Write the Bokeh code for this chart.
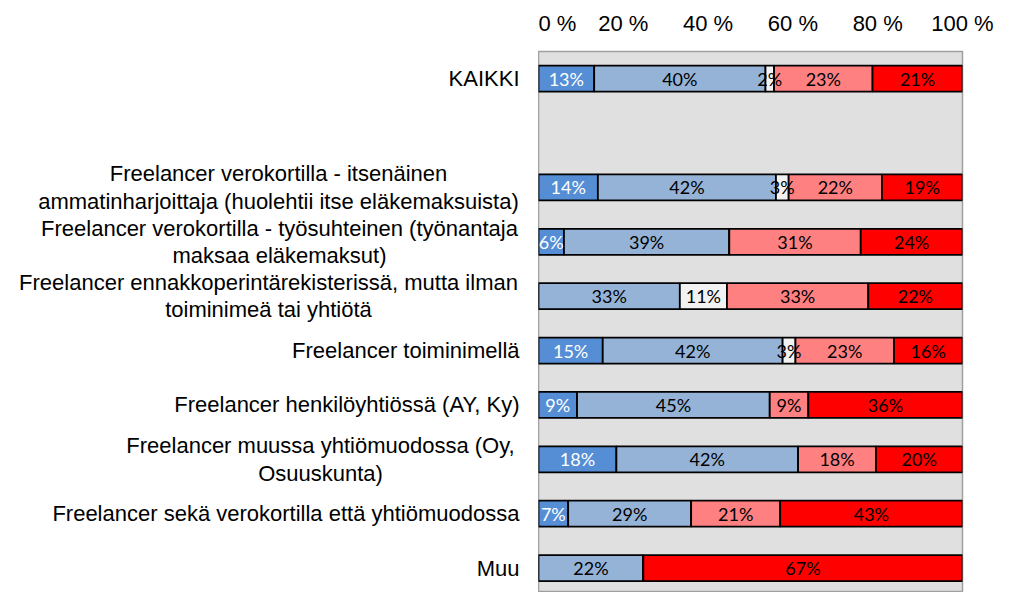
from bokeh.plotting import figure
from bokeh.layouts import row
from bokeh.models import ColumnDataSource, Range1d, FixedTicker
from bokeh.core.properties import value
from bokeh.embed import file_html
from bokeh.resources import INLINE

# ---------------- data ----------------
categories = [
    "KAIKKI",
    "",
    "Freelancer verokortilla - itsenäinen\nammatinharjoittaja (huolehtii itse eläkemaksuista)",
    "Freelancer verokortilla - työsuhteinen (työnantaja\nmaksaa eläkemaksut)",
    "Freelancer ennakkoperintärekisterissä, mutta ilman\ntoiminimeä tai yhtiötä",
    "Freelancer toiminimellä",
    "Freelancer henkilöyhtiössä (AY, Ky)",
    "Freelancer muussa yhtiömuodossa (Oy,\nOsuuskunta)",
    "Freelancer sekä verokortilla että yhtiömuodossa",
    "Muu",
]
s1 = [13, 0, 14, 6, 0, 15, 9, 18, 7, 0]
s2 = [40, 0, 42, 39, 33, 42, 45, 42, 29, 22]
s3 = [2, 0, 3, 0, 11, 3, 0, 0, 0, 0]
s4 = [23, 0, 22, 31, 33, 23, 9, 18, 21, 0]
s5 = [21, 0, 19, 24, 22, 16, 36, 20, 43, 67]
series = [s1, s2, s3, s4, s5]
x_ticks = [0, 20, 40, 60, 80, 100]
x_tick_labels = ["0 %", "20 %", "40 %", "60 %", "80 %", "100 %"]

# ---------------- styles / layout ----------------
colors = ["#558ED5", "#95B3D7", "#F2F2F2", "#FF8080", "#FF0000"]
label_colors = ["white", "black", "black", "black", "black"]
LEFT_W = 538          # width of the label panel (px)
FRAME_W = 424
FRAME_H = 541
TOP = 51
wrapped_centres = {2: 278, 3: 279, 4: 268, 7: 320}   # px, centre-aligned wrapped labels
LABEL_RIGHT_PX = 519

n = len(categories)
ys = [n - 1 - i for i in range(n)]
y_range = Range1d(-0.45, 9.5)

bars = dict(y=[], left=[], right=[], color=[])
labs = dict(x=[], y=[], text=[], color=[])
for i in range(n):
    vals = [s[i] for s in series]
    tot = sum(vals)
    if tot == 0:
        continue
    acc = 0.0
    for k, v in enumerate(vals):
        l = acc / tot * 100
        acc += v
        r = acc / tot * 100
        bars["y"].append(ys[i]); bars["left"].append(l); bars["right"].append(r)
        bars["color"].append(colors[k])
        if v > 0:
            labs["x"].append((l + r) / 2); labs["y"].append(ys[i])
            labs["text"].append(f"{v}%"); labs["color"].append(label_colors[k])

# ---- category label panel ----
cat_src = dict(x=[], y=[], text=[], align=[])
for i, cat in enumerate(categories):
    if not cat:
        continue
    if i in wrapped_centres:
        cat_src["x"].append(wrapped_centres[i]); cat_src["align"].append("center")
    else:
        cat_src["x"].append(LABEL_RIGHT_PX); cat_src["align"].append("right")
    cat_src["y"].append(ys[i]); cat_src["text"].append(cat)

lp = figure(frame_width=LEFT_W, frame_height=FRAME_H,
            x_range=Range1d(0, LEFT_W), y_range=y_range,
            x_axis_location=None, y_axis_location=None,
            output_backend="svg", toolbar_location=None,
            min_border_left=0, min_border_right=0,
            min_border_top=TOP, min_border_bottom=0)
lp.outline_line_color = None
lp.background_fill_color = "white"
lp.border_fill_color = "white"
lp.xgrid.visible = False
lp.ygrid.visible = False
lp.grid.visible = False
lp.text(x="x", y="y", text="text", text_align="align", text_baseline="middle",
        text_font=value("Liberation Sans"), text_font_size="22px",
        text_color="black", text_line_height=1.1,
        source=ColumnDataSource(cat_src))

# ---- bar panel ----
p = figure(frame_width=FRAME_W, frame_height=FRAME_H,
           x_range=Range1d(0, 100), y_range=y_range,
           x_axis_location="above", y_axis_location=None,
           output_backend="svg", toolbar_location=None,
           min_border_left=0, min_border_right=40,
           min_border_top=TOP, min_border_bottom=0)
p.background_fill_color = "#E0E0E0"
p.border_fill_color = "white"
p.outline_line_color = "#A0A0A0"
p.outline_line_width = 1.5
p.grid.visible = False

p.hbar(y="y", left="left", right="right", height=0.478, fill_color="color",
       line_color="black", line_width=1.8, source=ColumnDataSource(bars))
p.text(x="x", y="y", text="text", text_color="color", text_align="center",
       text_baseline="middle", text_font=value("Lato"), text_font_size="18px",
       source=ColumnDataSource(labs))

ax = p.xaxis[0]
ax.ticker = FixedTicker(ticks=x_ticks)
ax.major_label_overrides = {t: s for t, s in zip(x_ticks, x_tick_labels)}
ax.axis_line_color = None
ax.major_tick_line_color = None
ax.minor_tick_line_color = None
ax.major_label_standoff = 10
ax.major_label_text_font = "Liberation Sans"
ax.major_label_text_font_size = "22px"
ax.major_label_text_color = "black"

layout = row(lp, p)
open("out.html", "w").write(file_html(layout, INLINE))
